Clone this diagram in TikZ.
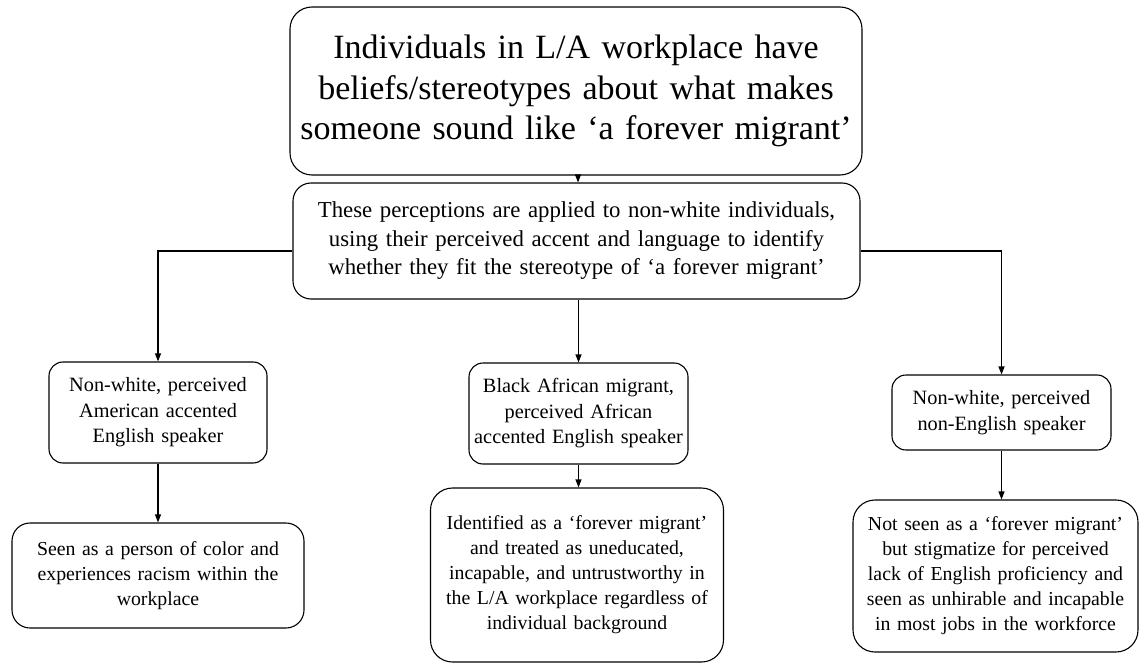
\documentclass[tikz,border=0pt]{standalone}
\usepackage{fontspec}
\usetikzlibrary{arrows.meta}
\setmainfont{Liberation Serif}
\tikzset{
  box/.style={draw, rounded corners=14pt, line width=1.1pt, align=center, inner sep=3pt,
    font=\fontsize{19.8}{25}\selectfont},
  group/.style={box, font=\fontsize{20.3}{25.5}\selectfont},
  flow/.style={-{Triangle[length=8pt,width=6pt]}, line width=1.1pt}
}
\begin{document}
\begin{tikzpicture}[x=1pt, y=-1pt]
  \useasboundingbox (0,0) rectangle (1140,663);
  % top of the chain
  \node[box, rounded corners=22pt, text width=566pt, minimum height=168pt,
    font=\fontsize{34}{40.5}\selectfont] (beliefs) at (576,91)
    {Individuals in L/A workplace have\\ beliefs/stereotypes about what makes\\ someone sound like ‘a forever migrant’};
  \node[box, rounded corners=18pt, text width=561pt, minimum height=116pt,
    font=\fontsize{22.8}{28.5}\selectfont] (applied) at (576.5,241)
    {These perceptions are applied to non-white individuals,\\ using their perceived accent and language to identify\\ whether they fit the stereotype of ‘a forever migrant’};
  % three groups
  \node[group, text width=212pt, minimum height=101pt] (american) at (158,412.5)
    {Non-white, perceived\\ American accented\\ English speaker};
  \node[group, text width=213pt, minimum height=101pt] (african) at (578.5,413.5)
    {Black African migrant,\\ perceived African\\ accented English speaker};
  \node[group, text width=213pt, minimum height=75pt] (nonenglish) at (1001.5,412.5)
    {Non-white, perceived\\ non-English speaker};
  % outcomes
  \node[box, rounded corners=18pt, text width=286pt, minimum height=105pt] (racism) at (158,575.5)
    {Seen as a person of color and\\ experiences racism within the\\ workplace};
  \node[box, rounded corners=22pt, text width=287pt, minimum height=174pt] (forever) at (577,575)
    {Identified as a ‘forever migrant’\\ and treated as uneducated,\\ incapable, and untrustworthy in\\ the L/A workplace regardless of\\ individual background};
  \node[box, rounded corners=22pt, text width=279pt, minimum height=152pt] (stigma) at (995.5,576)
    {Not seen as a ‘forever migrant’\\ but stigmatize for perceived\\ lack of English proficiency and\\ seen as unhirable and incapable\\ in most jobs in the workforce};
  % connectors
  \draw[flow] (beliefs.south -| 578,0) -- (applied.north -| 578,0);
  \draw[flow] ([yshift=-10pt]applied.west) -| (american.north);
  \draw[flow] (african.north |- applied.south) -- (african.north);
  \draw[flow] ([yshift=-10pt]applied.east) -| (nonenglish.north);
  \draw[flow] (american) -- (racism);
  \draw[flow] (african.south) -- (african.south |- forever.north);
  \draw[flow] (nonenglish) -- (nonenglish.south |- stigma.north);
\end{tikzpicture}
\end{document}
